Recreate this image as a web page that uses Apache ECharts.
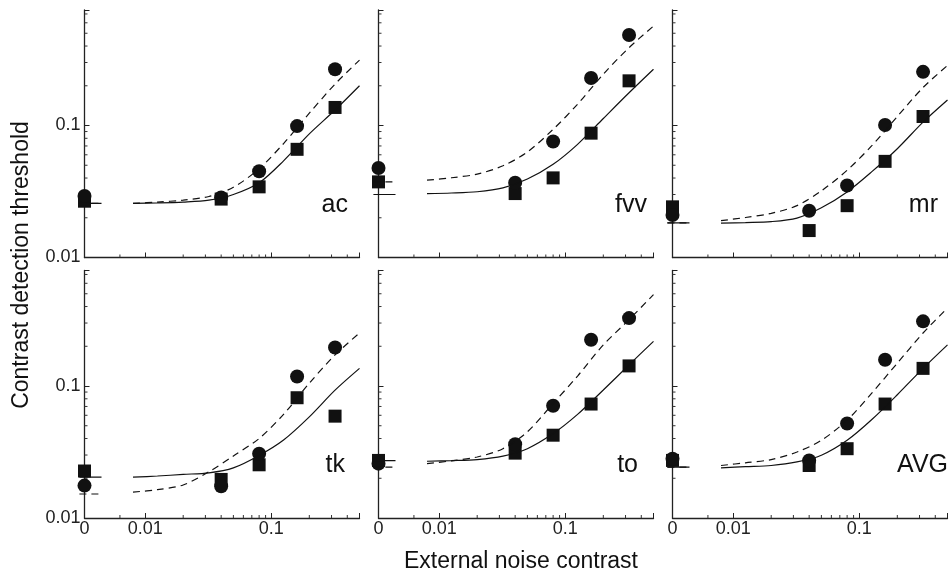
<!DOCTYPE html>
<html>
<head>
<meta charset="utf-8">
<script src="https://cdn.jsdelivr.net/npm/echarts@6/dist/echarts.min.js"></script>
<style>
  html, body { margin: 0; padding: 0; background: #fff; }
  #chart { width: 950px; height: 575px; }
</style>
</head>
<body>
<div id="chart"></div>
<script>
// external noise of the measured points (first one = no noise, drawn at "0")
const noiseLevels = [0, 0.04, 0.08, 0.16, 0.32];
const fitNoise = [0.008, 0.0125, 0.02, 0.032, 0.05, 0.08, 0.125, 0.2, 0.32, 0.5];
// short flat piece of the fit drawn at "0"
const zeroSpan = [-0.3, 1];

const xRange = [0.0033, 0.5];
const yRange = [0.01, 0.75];
const xMinorTicks = [0.0063, 0.02, 0.03, 0.04, 0.05, 0.06, 0.07, 0.08, 0.09, 0.2, 0.3, 0.4];
const yMinorTicks = [0.02, 0.03, 0.04, 0.05, 0.06, 0.07, 0.08, 0.09, 0.2, 0.3, 0.4, 0.5, 0.6, 0.7];

const observers = ['ac', 'fvv', 'mr', 'tk', 'to', 'AVG'];

// circles / squares : thresholds at noiseLevels
// solid / dashed    : fitted curves at fitNoise
// zero              : [solid, dashed] level at "0"
const acCircle = [0.0293, 0.0285, 0.045, 0.099, 0.267];
const acSquare = [0.0267, 0.0277, 0.0343, 0.066, 0.137];
const acSolid  = [0.0257, 0.0259, 0.0263, 0.0272, 0.030, 0.0368, 0.054, 0.0865, 0.131, 0.2];
const acDashed = [0.0257, 0.0263, 0.0272, 0.029, 0.034, 0.0471, 0.073, 0.124, 0.206, 0.313];
const acZero   = [0.0257, 0.0257];

const fvvCircle = [0.0477, 0.0368, 0.0757, 0.229, 0.485];
const fvvSquare = [0.0374, 0.0305, 0.0401, 0.0875, 0.218];
const fvvSolid  = [0.0305, 0.0308, 0.0315, 0.0337, 0.0393, 0.0508, 0.072, 0.113, 0.177, 0.267];
const fvvDashed = [0.0385, 0.0402, 0.0428, 0.0495, 0.063, 0.0935, 0.145, 0.245, 0.389, 0.567];
const fvvZero   = [0.03, 0.0374];

const mrCircle = [0.021, 0.0226, 0.0351, 0.101, 0.255];
const mrSquare = [0.0242, 0.016, 0.0247, 0.0535, 0.117];
const mrSolid  = [0.0182, 0.0184, 0.0187, 0.0199, 0.0238, 0.0314, 0.0445, 0.0667, 0.106, 0.156];
const mrDashed = [0.019, 0.0201, 0.0216, 0.0247, 0.032, 0.0458, 0.07, 0.117, 0.194, 0.285];
const mrZero   = [0.0183, 0.0183];

const tkCircle = [0.0176, 0.0174, 0.0307, 0.118, 0.196];
const tkSquare = [0.0227, 0.0196, 0.0253, 0.0815, 0.0591];
const tkSolid  = [0.0204, 0.0208, 0.0214, 0.022, 0.024, 0.0298, 0.039, 0.0584, 0.093, 0.136];
const tkDashed = [0.0157, 0.0164, 0.0178, 0.0224, 0.0295, 0.04, 0.061, 0.105, 0.172, 0.252];
const tkZero   = [0.0204, 0.0152];

const toCircle = [0.0258, 0.0362, 0.0708, 0.224, 0.327];
const toSquare = [0.0273, 0.031, 0.0424, 0.073, 0.142];
const toSolid  = [0.0269, 0.0272, 0.0277, 0.0294, 0.0335, 0.0436, 0.061, 0.0933, 0.1445, 0.218];
const toDashed = [0.0258, 0.0271, 0.029, 0.0335, 0.045, 0.0738, 0.119, 0.205, 0.318, 0.493];
const toZero   = [0.0272, 0.0243];

const avgCircle = [0.0281, 0.0273, 0.052, 0.158, 0.309];
const avgSquare = [0.0273, 0.025, 0.0335, 0.073, 0.136];
const avgSolid  = [0.024, 0.0245, 0.025, 0.0266, 0.0299, 0.0388, 0.0555, 0.0859, 0.136, 0.205];
const avgDashed = [0.025, 0.0262, 0.0277, 0.0316, 0.0388, 0.0551, 0.088, 0.149, 0.252, 0.39];
const avgZero   = [0.0243, 0.0243];

const panelData = [
  [acCircle, acSquare, acSolid, acDashed, acZero],
  [fvvCircle, fvvSquare, fvvSolid, fvvDashed, fvvZero],
  [mrCircle, mrSquare, mrSolid, mrDashed, mrZero],
  [tkCircle, tkSquare, tkSolid, tkDashed, tkZero],
  [toCircle, toSquare, toSolid, toDashed, toZero],
  [avgCircle, avgSquare, avgSolid, avgDashed, avgZero]
];

// layout
const colLeft = [84.5, 378.5, 672.5];
const rowTop = [10, 270.5];
const panelW = 275, panelH = 247.5;
const labelRight = [348, 647, 938, 345, 638, 948];
const ink = '#111';
const font = 'Liberation Sans, Arial, Helvetica, sans-serif';

function decadeLabel(v) {
  const l = Math.log10(v);
  if (Math.abs(l + 2) < 1e-6) return '0.01';
  if (Math.abs(l + 1) < 1e-6) return '0.1';
  return '';
}

const grid = [], xAxis = [], yAxis = [], series = [], graphic = [];

observers.forEach((name, i) => {
  const r = Math.floor(i / 3), c = i % 3;
  const [circ, sq, solid, dashed, zero] = panelData[i];
  const gMain = 2 * i, gZero = 2 * i + 1;

  grid.push({ left: colLeft[c], top: rowTop[r], width: panelW, height: panelH,
              containLabel: false, outerBoundsMode: 'none' });
  grid.push({ left: colLeft[c] - 17, top: rowTop[r], width: 34, height: panelH,
              containLabel: false, outerBoundsMode: 'none' });

  xAxis.push({
    type: 'log', logBase: 10, gridIndex: gMain, min: xRange[0], max: xRange[1],
    axisLine: { show: true, onZero: false, lineStyle: { color: '#222', width: 1.3 } },
    axisTick: { show: true, inside: true, length: 5, lineStyle: { color: '#222' } },
    axisLabel: { show: r === 1, formatter: decadeLabel, color: '#222', fontSize: 18,
                 fontFamily: font, margin: 2 },
    splitLine: { show: false }
  });
  xAxis.push({
    type: 'value', gridIndex: gZero, min: -1, max: 1, interval: 1,
    axisLine: { show: false }, axisTick: { show: false }, splitLine: { show: false },
    axisLabel: { show: r === 1, formatter: v => (v === 0 ? '0' : ''), color: '#222',
                 fontSize: 18, fontFamily: font, margin: 2 }
  });
  yAxis.push({
    type: 'log', logBase: 10, gridIndex: gMain, min: yRange[0], max: yRange[1],
    axisLine: { show: true, onZero: false, lineStyle: { color: '#222', width: 1.3 } },
    axisTick: { show: true, inside: true, length: 5, lineStyle: { color: '#222' } },
    axisLabel: { show: c === 0, formatter: decadeLabel, color: '#222', fontSize: 18,
                 fontFamily: font, margin: 4 },
    splitLine: { show: false }
  });
  yAxis.push({ type: 'log', logBase: 10, gridIndex: gZero, min: yRange[0], max: yRange[1], show: false });

  const lineBase = { type: 'line', symbol: 'none', silent: true, animation: false };
  series.push(Object.assign({}, lineBase, {
    xAxisIndex: gMain, yAxisIndex: gMain, smooth: 0.3,
    data: fitNoise.map((x, k) => [x, solid[k]]),
    lineStyle: { color: ink, width: 1.2 }
  }));
  series.push(Object.assign({}, lineBase, {
    xAxisIndex: gMain, yAxisIndex: gMain, smooth: 0.3,
    data: fitNoise.map((x, k) => [x, dashed[k]]),
    lineStyle: { color: ink, width: 1.2, type: [7, 5] }
  }));
  series.push(Object.assign({}, lineBase, {
    xAxisIndex: gZero, yAxisIndex: gZero, clip: false,
    data: zeroSpan.map(x => [x, zero[0]]),
    lineStyle: { color: ink, width: 1.2 }
  }));
  series.push(Object.assign({}, lineBase, {
    xAxisIndex: gZero, yAxisIndex: gZero, clip: false,
    data: zeroSpan.map(x => [x, zero[1]]),
    lineStyle: { color: ink, width: 1.2, type: [7, 5] }
  }));

  // minor ticks drawn inside the axes
  series.push({
    type: 'scatter', xAxisIndex: gMain, yAxisIndex: gMain, silent: true, clip: false,
    data: xMinorTicks.map(x => [x, yRange[0]]),
    symbol: 'rect', symbolSize: [1, 3], symbolOffset: [0, -1.5],
    itemStyle: { color: '#333', opacity: 1 }
  });
  series.push({
    type: 'scatter', xAxisIndex: gMain, yAxisIndex: gMain, silent: true, clip: false,
    data: yMinorTicks.map(y => [xRange[0], y]),
    symbol: 'rect', symbolSize: [3, 1], symbolOffset: [1.5, 0],
    itemStyle: { color: '#333', opacity: 1 }
  });

  const sqBase = { type: 'scatter', symbol: 'rect', symbolSize: 13, silent: true,
                   clip: false, itemStyle: { color: ink, opacity: 1 } };
  const ciBase = { type: 'scatter', symbol: 'circle', symbolSize: 14, silent: true,
                   clip: false, itemStyle: { color: ink, opacity: 1 } };
  series.push(Object.assign({}, sqBase, { xAxisIndex: gMain, yAxisIndex: gMain,
    data: noiseLevels.slice(1).map((x, k) => [x, sq[k + 1]]) }));
  series.push(Object.assign({}, sqBase, { xAxisIndex: gZero, yAxisIndex: gZero,
    data: [[noiseLevels[0], sq[0]]] }));
  series.push(Object.assign({}, ciBase, { xAxisIndex: gMain, yAxisIndex: gMain,
    data: noiseLevels.slice(1).map((x, k) => [x, circ[k + 1]]) }));
  series.push(Object.assign({}, ciBase, { xAxisIndex: gZero, yAxisIndex: gZero,
    data: [[noiseLevels[0], circ[0]]] }));

  graphic.push({
    type: 'text', x: labelRight[i], y: r === 0 ? 205 : 465,
    style: { text: name, fill: ink, font: '25px ' + font,
             textAlign: 'right', textVerticalAlign: 'middle' }
  });
});

graphic.push({
  type: 'text', x: 521, y: 562,
  style: { text: 'External noise contrast', fill: ink, font: '23px ' + font,
           textAlign: 'center', textVerticalAlign: 'middle' }
});
graphic.push({
  type: 'text', x: 22, y: 265, rotation: Math.PI / 2,
  style: { text: 'Contrast detection threshold', fill: ink, font: '23px ' + font,
           textAlign: 'center', textVerticalAlign: 'middle' }
});

const myChart = echarts.init(document.getElementById('chart'), null, { renderer: 'canvas' });
myChart.setOption({
  animation: false,
  backgroundColor: '#fff',
  grid: grid,
  xAxis: xAxis,
  yAxis: yAxis,
  series: series,
  graphic: graphic
});
</script>
</body>
</html>
